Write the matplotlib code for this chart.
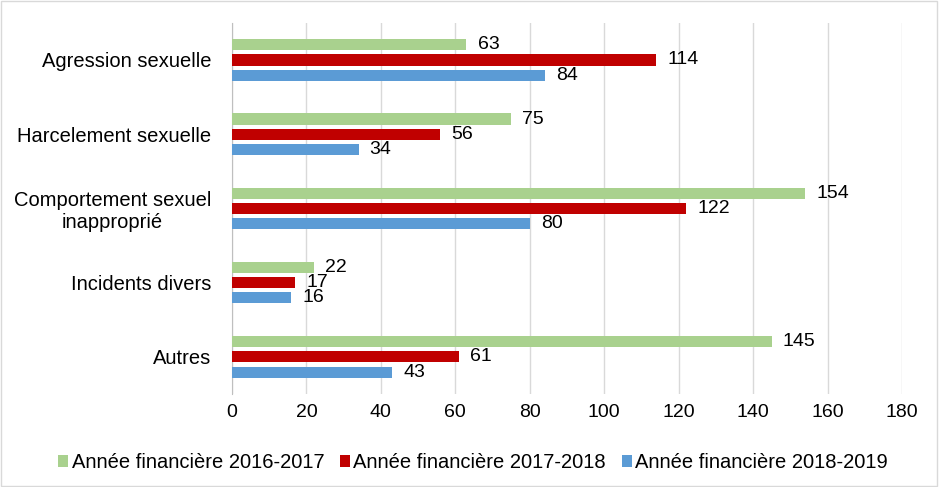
import matplotlib.pyplot as plt
import numpy as np

plt.rcParams['font.family'] = ['Liberation Sans', 'DejaVu Sans']

categories = ['Agression sexuelle', 'Harcelement sexuelle', 'Comportement sexuel\ninapproprié',
              'Incidents divers', 'Autres']
series = ['Année financière 2016-2017', 'Année financière 2017-2018', 'Année financière 2018-2019']
v2016 = [63, 75, 154, 22, 145]
v2017 = [114, 56, 122, 17, 61]
v2018 = [84, 34, 80, 16, 43]
colors = ['#A9D18E', '#C00000', '#5B9BD5']

fs = 14
fs_lab = 14.5

fig = plt.figure(figsize=(9.39, 4.87), dpi=100)
ax = fig.add_axes([0.247, 0.191, 0.7136, 0.762])

y = np.arange(len(categories))
offsets = [-0.205, 0.0, 0.205]
h = 0.15
for vals, off, c, lab in zip([v2016, v2017, v2018], offsets, colors, series):
    bars = ax.barh(y + off, vals, height=h, color=c, label=lab, zorder=3)
    for b, v in zip(bars, vals):
        ax.text(b.get_width() + 3, b.get_y() + h / 2, str(v), va='center', ha='left',
                fontsize=fs, color='#000000')

ax.set_yticks(y)
ax.set_yticklabels(categories, fontsize=fs_lab, ha='right', multialignment='center')
ax.tick_params(axis='y', pad=15, length=0)
ax.set_ylim(len(categories) - 0.5, -0.5)
ax.set_xlim(0, 180)
ax.set_xticks(range(0, 181, 20))
ax.tick_params(axis='x', length=0, labelsize=fs, pad=7)
ax.grid(axis='x', color='#D9D9D9', linewidth=1, zorder=0)
for s in ['top', 'right', 'bottom']:
    ax.spines[s].set_visible(False)
ax.spines['left'].set_color('#BFBFBF')

ax.legend(loc='center', bbox_to_anchor=(0.36, -0.185), ncol=3, frameon=False,
          fontsize=fs_lab, handlelength=0.5, handleheight=0.5, handletextpad=0.15,
          columnspacing=0.8)

fig.patches.append(plt.Rectangle((0.001, 0.002), 0.997, 0.996, transform=fig.transFigure,
                                 fill=False, edgecolor='#D9D9D9', linewidth=1))
fig.savefig('out.png', dpi=100)
